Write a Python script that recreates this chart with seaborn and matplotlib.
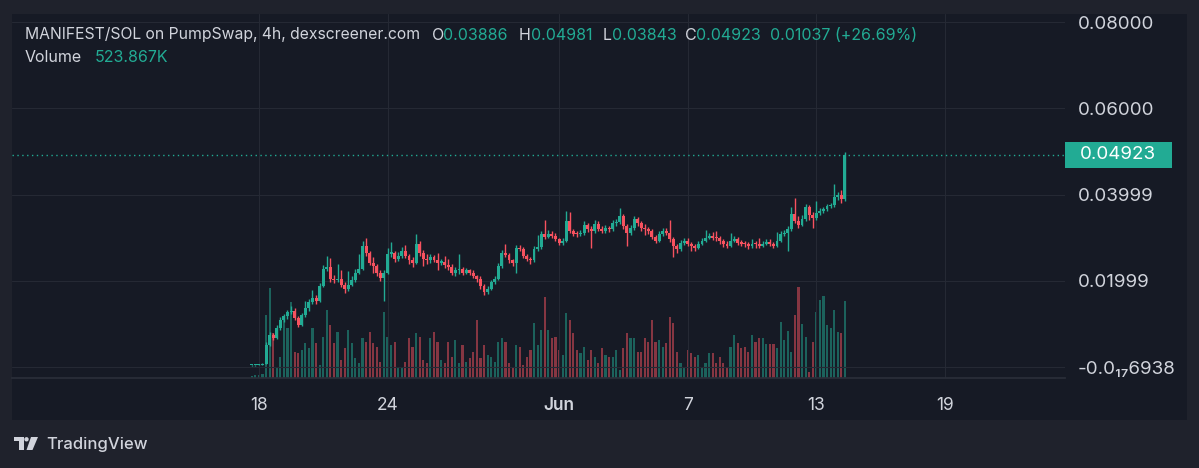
import numpy as np
import pandas as pd
import matplotlib
matplotlib.use('Agg')
import matplotlib.pyplot as plt
import matplotlib.transforms as mtrans
from matplotlib.patches import Rectangle, Polygon, Circle
import seaborn as sns

# MANIFEST/SOL 4h candles, first candle opens 17 May 16:00
close_ = [
    0.0004, 0.0004, 0.0005, 0.0007, 0.0051, 0.0074, 0.0067, 0.0090, 0.0108, 0.0118,
    0.0127, 0.0131, 0.0113, 0.0097, 0.0120, 0.0136, 0.0150, 0.0161, 0.0154, 0.0189,
    0.0228, 0.0231, 0.0205, 0.0201, 0.0203, 0.0191, 0.0180, 0.0191, 0.0201, 0.0219,
    0.0228, 0.0281, 0.0265, 0.0242, 0.0235, 0.0219, 0.0207, 0.0219, 0.0263, 0.0265,
    0.0251, 0.0258, 0.0270, 0.0258, 0.0247, 0.0242, 0.0286, 0.0265, 0.0251, 0.0247,
    0.0254, 0.0247, 0.0242, 0.0243, 0.0237, 0.0233, 0.0219, 0.0224, 0.0228, 0.0219,
    0.0224, 0.0219, 0.0212, 0.0205, 0.0187, 0.0173, 0.0182, 0.0196, 0.0205, 0.0235,
    0.0265, 0.0260, 0.0247, 0.0242, 0.0277, 0.0274, 0.0258, 0.0251, 0.0247, 0.0274,
    0.0279, 0.0309, 0.0302, 0.0309, 0.0304, 0.0297, 0.0288, 0.0293, 0.0339, 0.0316,
    0.0309, 0.0308, 0.0311, 0.0330, 0.0320, 0.0316, 0.0332, 0.0320, 0.0316, 0.0323,
    0.0320, 0.0334, 0.0336, 0.0350, 0.0327, 0.0311, 0.0323, 0.0343, 0.0334, 0.0323,
    0.0320, 0.0316, 0.0302, 0.0293, 0.0309, 0.0316, 0.0311, 0.0297, 0.0281, 0.0274,
    0.0288, 0.0293, 0.0286, 0.0281, 0.0277, 0.0286, 0.0293, 0.0300, 0.0304, 0.0300,
    0.0299, 0.0293, 0.0286, 0.0281, 0.0293, 0.0297, 0.0288, 0.0286, 0.0285, 0.0281,
    0.0286, 0.0285, 0.0281, 0.0286, 0.0290, 0.0286, 0.0281, 0.0293, 0.0309, 0.0311,
    0.0320, 0.0355, 0.0339, 0.0330, 0.0343, 0.0371, 0.0353, 0.0346, 0.0357, 0.0362,
    0.0366, 0.0373, 0.0376, 0.0394, 0.0399, 0.03886, 0.04923,
]
high_ = [
    0.0005, 0.0005, 0.0006, 0.0009, 0.0058, 0.0082, 0.0079, 0.0098, 0.0115, 0.0124,
    0.0133, 0.0141, 0.0136, 0.0118, 0.0126, 0.0152, 0.0158, 0.0178, 0.0168, 0.0195,
    0.0236, 0.0258, 0.0252, 0.0214, 0.0238, 0.0226, 0.0198, 0.0222, 0.0212, 0.0227,
    0.0262, 0.0292, 0.0300, 0.0270, 0.0256, 0.0240, 0.0225, 0.0226, 0.0275, 0.0290,
    0.0270, 0.0266, 0.0279, 0.0283, 0.0263, 0.0254, 0.0309, 0.0292, 0.0272, 0.0262,
    0.0261, 0.0259, 0.0264, 0.0251, 0.0258, 0.0250, 0.0238, 0.0231, 0.0262, 0.0233,
    0.0230, 0.0228, 0.0226, 0.0214, 0.0210, 0.0192, 0.0188, 0.0202, 0.0212, 0.0241,
    0.0272, 0.0285, 0.0264, 0.0250, 0.0283, 0.0282, 0.0279, 0.0262, 0.0255, 0.0281,
    0.0305, 0.0316, 0.0340, 0.0318, 0.0315, 0.0310, 0.0300, 0.0299, 0.0362, 0.0360,
    0.0320, 0.0316, 0.0318, 0.0338, 0.0334, 0.0326, 0.0340, 0.0338, 0.0328, 0.0330,
    0.0328, 0.0340, 0.0344, 0.0368, 0.0355, 0.0332, 0.0330, 0.0350, 0.0347, 0.0338,
    0.0332, 0.0324, 0.0320, 0.0306, 0.0315, 0.0322, 0.0322, 0.0340, 0.0302, 0.0285,
    0.0295, 0.0300, 0.0298, 0.0290, 0.0286, 0.0292, 0.0300, 0.0318, 0.0310, 0.0312,
    0.0316, 0.0303, 0.0297, 0.0292, 0.0310, 0.0304, 0.0302, 0.0295, 0.0292, 0.0290,
    0.0296, 0.0292, 0.0298, 0.0293, 0.0297, 0.0296, 0.0291, 0.0312, 0.0316, 0.0318,
    0.0328, 0.0372, 0.0392, 0.0350, 0.0352, 0.0378, 0.0375, 0.0360, 0.0384, 0.0368,
    0.0372, 0.0379, 0.0381, 0.0425, 0.0405, 0.0410, 0.04981,
]
low_ = [
    0.0003, 0.0003, 0.0004, 0.0004, 0.0006, 0.0048, 0.0062, 0.0064, 0.0086, 0.0104,
    0.0112, 0.0122, 0.0108, 0.0092, 0.0094, 0.0117, 0.0131, 0.0146, 0.0147, 0.0150,
    0.0186, 0.0222, 0.0198, 0.0194, 0.0196, 0.0185, 0.0172, 0.0177, 0.0187, 0.0198,
    0.0215, 0.0224, 0.0258, 0.0236, 0.0218, 0.0212, 0.0200, 0.0154, 0.0216, 0.0255,
    0.0244, 0.0246, 0.0252, 0.0252, 0.0240, 0.0233, 0.0238, 0.0258, 0.0235, 0.0240,
    0.0242, 0.0243, 0.0225, 0.0236, 0.0230, 0.0226, 0.0214, 0.0212, 0.0216, 0.0214,
    0.0215, 0.0213, 0.0207, 0.0196, 0.0180, 0.0168, 0.0169, 0.0178, 0.0192, 0.0201,
    0.0230, 0.0254, 0.0241, 0.0235, 0.0218, 0.0268, 0.0252, 0.0245, 0.0240, 0.0244,
    0.0270, 0.0274, 0.0296, 0.0298, 0.0300, 0.0292, 0.0283, 0.0284, 0.0290, 0.0310,
    0.0303, 0.0302, 0.0304, 0.0307, 0.0314, 0.0275, 0.0311, 0.0315, 0.0310, 0.0311,
    0.0314, 0.0316, 0.0328, 0.0332, 0.0320, 0.0281, 0.0306, 0.0318, 0.0328, 0.0316,
    0.0306, 0.0309, 0.0296, 0.0288, 0.0290, 0.0304, 0.0305, 0.0290, 0.0256, 0.0265,
    0.0268, 0.0284, 0.0280, 0.0270, 0.0270, 0.0273, 0.0282, 0.0290, 0.0296, 0.0294,
    0.0292, 0.0285, 0.0278, 0.0276, 0.0278, 0.0290, 0.0282, 0.0280, 0.0278, 0.0274,
    0.0277, 0.0276, 0.0275, 0.0278, 0.0282, 0.0280, 0.0276, 0.0278, 0.0290, 0.0304,
    0.0270, 0.0316, 0.0333, 0.0322, 0.0326, 0.0338, 0.0342, 0.0323, 0.0341, 0.0352,
    0.0357, 0.0362, 0.0368, 0.0372, 0.0388, 0.0380, 0.03843,
]
# volume in thousands
volume_k = [
    14, 20, 20, 27, 428, 612, 306, 68, 143, 394, 340, 517, 177, 170, 190, 238, 204,
    340, 238, 88, 279, 462, 360, 238, 313, 122, 204, 326, 238, 136, 102, 272, 245, 313,
    238, 211, 109, 449, 279, 224, 245, 75, 68, 109, 272, 211, 306, 279, 122, 102,
    272, 313, 245, 122, 102, 245, 143, 258, 102, 224, 109, 136, 177, 394, 136, 224,
    156, 143, 109, 245, 272, 245, 102, 68, 224, 211, 88, 143, 190, 374, 224, 326, 551,
    326, 272, 279, 190, 156, 442, 394, 306, 190, 170, 211, 122, 190, 143, 102, 204, 156,
    143, 143, 190, 54, 204, 306, 272, 272, 177, 177, 272, 245, 394, 245, 258, 211, 238,
    415, 374, 177, 102, 68, 190, 170, 143, 156, 68, 102, 170, 170, 102, 143, 102, 75,
    211, 292, 238, 204, 211, 177, 292, 245, 272, 272, 231, 231, 231, 204, 381, 258,
    320, 177, 428, 619, 367, 279, 41, 245, 449, 530, 558, 360, 340, 462, 313, 306, 523.867,
]
first_open = 0.0004
start = pd.Timestamp('2025-05-17 16:00')
tick_dates = ['2025-05-18', '2025-05-24', '2025-06-01', '2025-06-07', '2025-06-13', '2025-06-19']
tick_labels = ['18', '24', 'Jun', '7', '13', '19']
price_ticks = [0.08, 0.06, 0.04, 0.02, 0.0]
price_labels = ['0.08000', '0.06000', '0.03999', '0.01999', '-0.0₁₇6938']
last_price = 0.04923

UP, DN = '#22ab94', '#f7525f'
TEXT, PANE, OUTER, GRID = '#d1d4dc', '#161a25', '#1f222c', '#252934'

df = pd.DataFrame({'close': close_, 'high': high_, 'low': low_, 'volume': volume_k})
df['i'] = np.arange(len(df))
df['open'] = [first_open] + close_[:-1]  # each candle opens at the previous close
df['dir'] = np.where(df['close'] >= df['open'], 'up', 'down')
tick_idx = [(pd.Timestamp(d) - start) / pd.Timedelta(hours=4) for d in tick_dates]

sns.set_theme(style='dark')
plt.rcParams['font.family'] = ['Inter', 'DejaVu Sans']

W, H = 1199, 468
fig = plt.figure(figsize=(W / 100, H / 100), dpi=100, facecolor=OUTER)
fig.add_artist(Rectangle((12 / W, 1 - 420 / H), 1175 / W, 406 / H,
                         transform=fig.transFigure, fc=PANE, ec='none', zorder=-5))
rect = [12 / W, 1 - 378 / H, 1053 / W, 364 / H]
axv = fig.add_axes(rect)
ax = fig.add_axes(rect, sharex=axv)
ax.patch.set_visible(False)
axv.set_facecolor(PANE)

# volume underneath
sns.barplot(data=df, x='i', y='volume', hue='dir', palette={'up': UP, 'down': DN},
            native_scale=True, dodge=False, width=0.6, errorbar=None, saturation=1,
            alpha=0.5, linewidth=0, legend=False, ax=axv)
axv.set_ylim(0, 2477)
axv.set_yticks([])
axv.set_xlabel('')
axv.set_ylabel('')
axv.tick_params(labelbottom=False, length=0)
for s in axv.spines.values():
    s.set_visible(False)

# candles
col = np.where(df['dir'] == 'up', UP, DN)
ax.vlines(df['i'], df['low'], df['high'], colors=col, lw=1.0, zorder=3)
body_lo = np.minimum(df['open'], df['close'])
body_h = np.maximum(np.abs(df['close'] - df['open']), 0.00028)
ax.bar(df['i'], body_h, bottom=body_lo, width=0.82, color=col, lw=0, zorder=4)

ax.axhline(last_price, color=UP, ls=(0, (1, 2.5)), lw=1, zorder=2)
ax.set_ylim(-0.00255, 0.08186)
ax.set_xlim(-67.1, 227.6)
ax.grid(True, color=GRID, lw=0.8)
ax.set_axisbelow(True)
ax.yaxis.tick_right()
ax.set_yticks(price_ticks, labels=price_labels)
ax.set_xticks(tick_idx, labels=tick_labels)
ax.tick_params(axis='y', length=0, pad=9, labelsize=13.5, labelcolor=TEXT)
ax.tick_params(axis='x', length=0, pad=14, labelsize=12.5, labelcolor=TEXT)
ax.get_xticklabels()[2].set_fontweight('semibold')
ax.set_xlabel('')
ax.set_ylabel('')
for k, s in ax.spines.items():
    s.set_visible(k == 'bottom')
ax.spines['bottom'].set_color('#2a2e39')

# last price tag
bt = mtrans.blended_transform_factory(ax.transAxes, ax.transData)
ax.add_patch(Rectangle((1.0, last_price - 0.003), 107 / 1053, 0.006, transform=bt,
                       fc=UP, ec='none', clip_on=False, zorder=6))
ax.text(1.0 + 53 / 1053, last_price, '0.04923', transform=bt, ha='center', va='center',
        color='white', fontsize=13.5, zorder=7, clip_on=False)

# header legend
def px(x, y):
    return x / W, 1 - y / H

fig.text(*px(25, 35), 'MANIFEST/SOL on PumpSwap, 4h, dexscreener.com', color=TEXT,
         fontsize=11.3, va='center')
for x0, s, c in [(432, 'O', TEXT), (443, '0.03886', UP), (519, 'H', TEXT), (531, '0.04981', UP),
                 (603, 'L', TEXT), (612, '0.03843', UP), (685, 'C', TEXT), (696, '0.04923', UP),
                 (770, '0.01037 (+26.69%)', UP)]:
    fig.text(*px(x0, 35), s, color=c, fontsize=11.5, va='center')
fig.text(*px(25, 58), 'Volume', color=TEXT, fontsize=11.5, va='center')
fig.text(*px(95, 58), '523.867K', color=UP, fontsize=11.5, va='center')

# TradingView mark
lax = fig.add_axes([14 / W, 1 - 451 / H, 24 / W, 15 / H])
lax.set_xlim(14, 38)
lax.set_ylim(451, 436)
lax.axis('off')
lax.add_patch(Rectangle((14, 437), 9.5, 4, fc=TEXT, ec='none'))
lax.add_patch(Rectangle((18.5, 437), 5, 13, fc=TEXT, ec='none'))
lax.add_patch(Circle((26.5, 439.3), 2.2, fc=TEXT, ec='none'))
lax.add_patch(Polygon([(31, 437), (38, 437), (32.5, 450), (26.5, 450)], fc=TEXT, ec='none'))
fig.text(*px(46, 444), 'TradingView', color=TEXT, fontsize=12, va='center', fontweight='medium')

fig.savefig('out.png', dpi=100, facecolor=OUTER)
